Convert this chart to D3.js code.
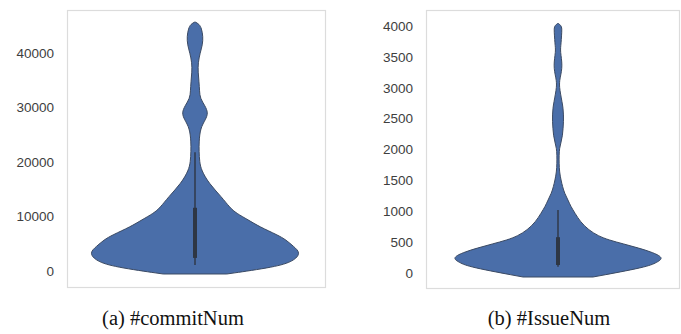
<!DOCTYPE html>
<html>
<head>
<meta charset="utf-8">
<script src="https://cdn.jsdelivr.net/npm/d3@7"></script>
<style>
  html, body { margin: 0; padding: 0; background: #fff; }
  svg { display: block; }
</style>
</head>
<body>
<svg id="chart" width="681" height="334"></svg>
<script>
"use strict";

// (a) #commitNum : kernel density profile (value, relative density)
var commitValues = [-550, 730, 1800, 3300, 4500, 5700, 6600, 8100, 9400, 10600, 11600, 13600, 16100, 18500,
  20000, 22000, 23700, 26200, 27800, 29000, 30300, 31700, 33000, 34700, 36500, 38200, 40000, 41500, 43000,
  44500, 45300, 45700];
var commitDensity = [0.30, 0.76, 0.93, 1.0, 0.93, 0.86, 0.78, 0.61, 0.50, 0.39, 0.33, 0.25, 0.13, 0.06,
  0.043, 0.038, 0.038, 0.05, 0.10, 0.125, 0.095, 0.048, 0.043, 0.038, 0.029, 0.029, 0.048, 0.071, 0.076,
  0.062, 0.04, 0];
var commitBox = { low: 1100, q1: 2400, q3: 11600, high: 21800 };
var commitTicks = [0, 10000, 20000, 30000, 40000];

// (b) #IssueNum
var issueValues = [-65, 97, 170, 243, 330, 405, 470, 534, 600, 696, 830, 970, 1080, 1180, 1290, 1400, 1500,
  1635, 1780, 1910, 2020, 2120, 2230, 2345, 2450, 2560, 2670, 2770, 2900, 3010, 3080, 3155, 3260, 3365, 3470,
  3575, 3650, 3720, 3840, 3960, 4010, 4045];
var issueDensity = [0.33, 0.84, 0.93, 1.0, 0.90, 0.76, 0.62, 0.48, 0.38, 0.29, 0.21, 0.16, 0.12, 0.095, 0.062,
  0.043, 0.029, 0.014, 0.01, 0.01, 0.014, 0.029, 0.043, 0.048, 0.052, 0.052, 0.048, 0.038, 0.024, 0.014, 0.014,
  0.019, 0.033, 0.038, 0.033, 0.024, 0.024, 0.029, 0.033, 0.038, 0.028, 0];
var issueBox = { low: 100, q1: 130, q3: 580, high: 1020 };
var issueTicks = [0, 500, 1000, 1500, 2000, 2500, 3000, 3500, 4000];

var captions = ["(a) #commitNum", "(b) #IssueNum"];

var VIOLIN_FILL = "#4a6ea9";
var VIOLIN_STROKE = "#3b4a63";
var BOX_COLOR = "#2e3644";
var FRAME_COLOR = "#dcdcdc";

var panels = [
  { values: commitValues, density: commitDensity, box: commitBox, ticks: commitTicks,
    frame: [67, 325, 10, 287], domain: [0, 40000], range: [271, 53], center: 195, caption: captions[0], captionX: 173 },
  { values: issueValues, density: issueDensity, box: issueBox, ticks: issueTicks,
    frame: [426, 679, 10, 288], domain: [0, 4000], range: [273, 26], center: 558, caption: captions[1], captionX: 549 }
];

var svg = d3.select("#chart");

panels.forEach(function (p) {
  var g = svg.append("g");
  var y = d3.scaleLinear().domain(p.domain).range(p.range);
  var w = d3.scaleLinear().domain([0, 1]).range([0, 106]);
  var pts = d3.zip(p.values, p.density);

  g.append("rect")
    .attr("x", p.frame[0] + 0.5)
    .attr("y", p.frame[2] + 0.5)
    .attr("width", p.frame[1] - p.frame[0])
    .attr("height", p.frame[3] - p.frame[2])
    .attr("fill", "#fff")
    .attr("stroke", FRAME_COLOR)
    .attr("stroke-width", 1.2);

  var axis = d3.axisLeft(y).tickValues(p.ticks).tickSize(0).tickPadding(0).tickFormat(d3.format("d"));
  var ax = g.append("g")
    .attr("transform", "translate(" + (p.frame[0] - 13) + ",0)")
    .call(axis);
  ax.select(".domain").remove();
  ax.selectAll("text")
    .attr("fill", "#3e3e3e")
    .style("font-family", "'Liberation Sans', Arial, sans-serif")
    .style("font-size", "13.5px");

  var area = d3.area()
    .y(function (d) { return y(d[0]); })
    .x0(function (d) { return p.center - w(d[1]); })
    .x1(function (d) { return p.center + w(d[1]); })
    .curve(d3.curveBasis);

  g.append("path")
    .datum(pts)
    .attr("d", area)
    .attr("fill", VIOLIN_FILL)
    .attr("stroke", VIOLIN_STROKE)
    .attr("stroke-width", 1)
    .attr("stroke-linejoin", "round");

  // inner box
  g.append("line")
    .attr("x1", p.center).attr("x2", p.center)
    .attr("y1", y(p.box.low)).attr("y2", y(p.box.high))
    .attr("stroke", BOX_COLOR)
    .attr("stroke-width", 1.4);
  g.append("line")
    .attr("x1", p.center).attr("x2", p.center)
    .attr("y1", y(p.box.q1)).attr("y2", y(p.box.q3))
    .attr("stroke", BOX_COLOR)
    .attr("stroke-width", 4);

  svg.append("text")
    .attr("x", p.captionX)
    .attr("y", 325)
    .attr("text-anchor", "middle")
    .style("font-family", "'Liberation Serif', 'Times New Roman', serif")
    .style("font-size", "20.5px")
    .attr("fill", "#111")
    .text(p.caption);
});
</script>
</body>
</html>
